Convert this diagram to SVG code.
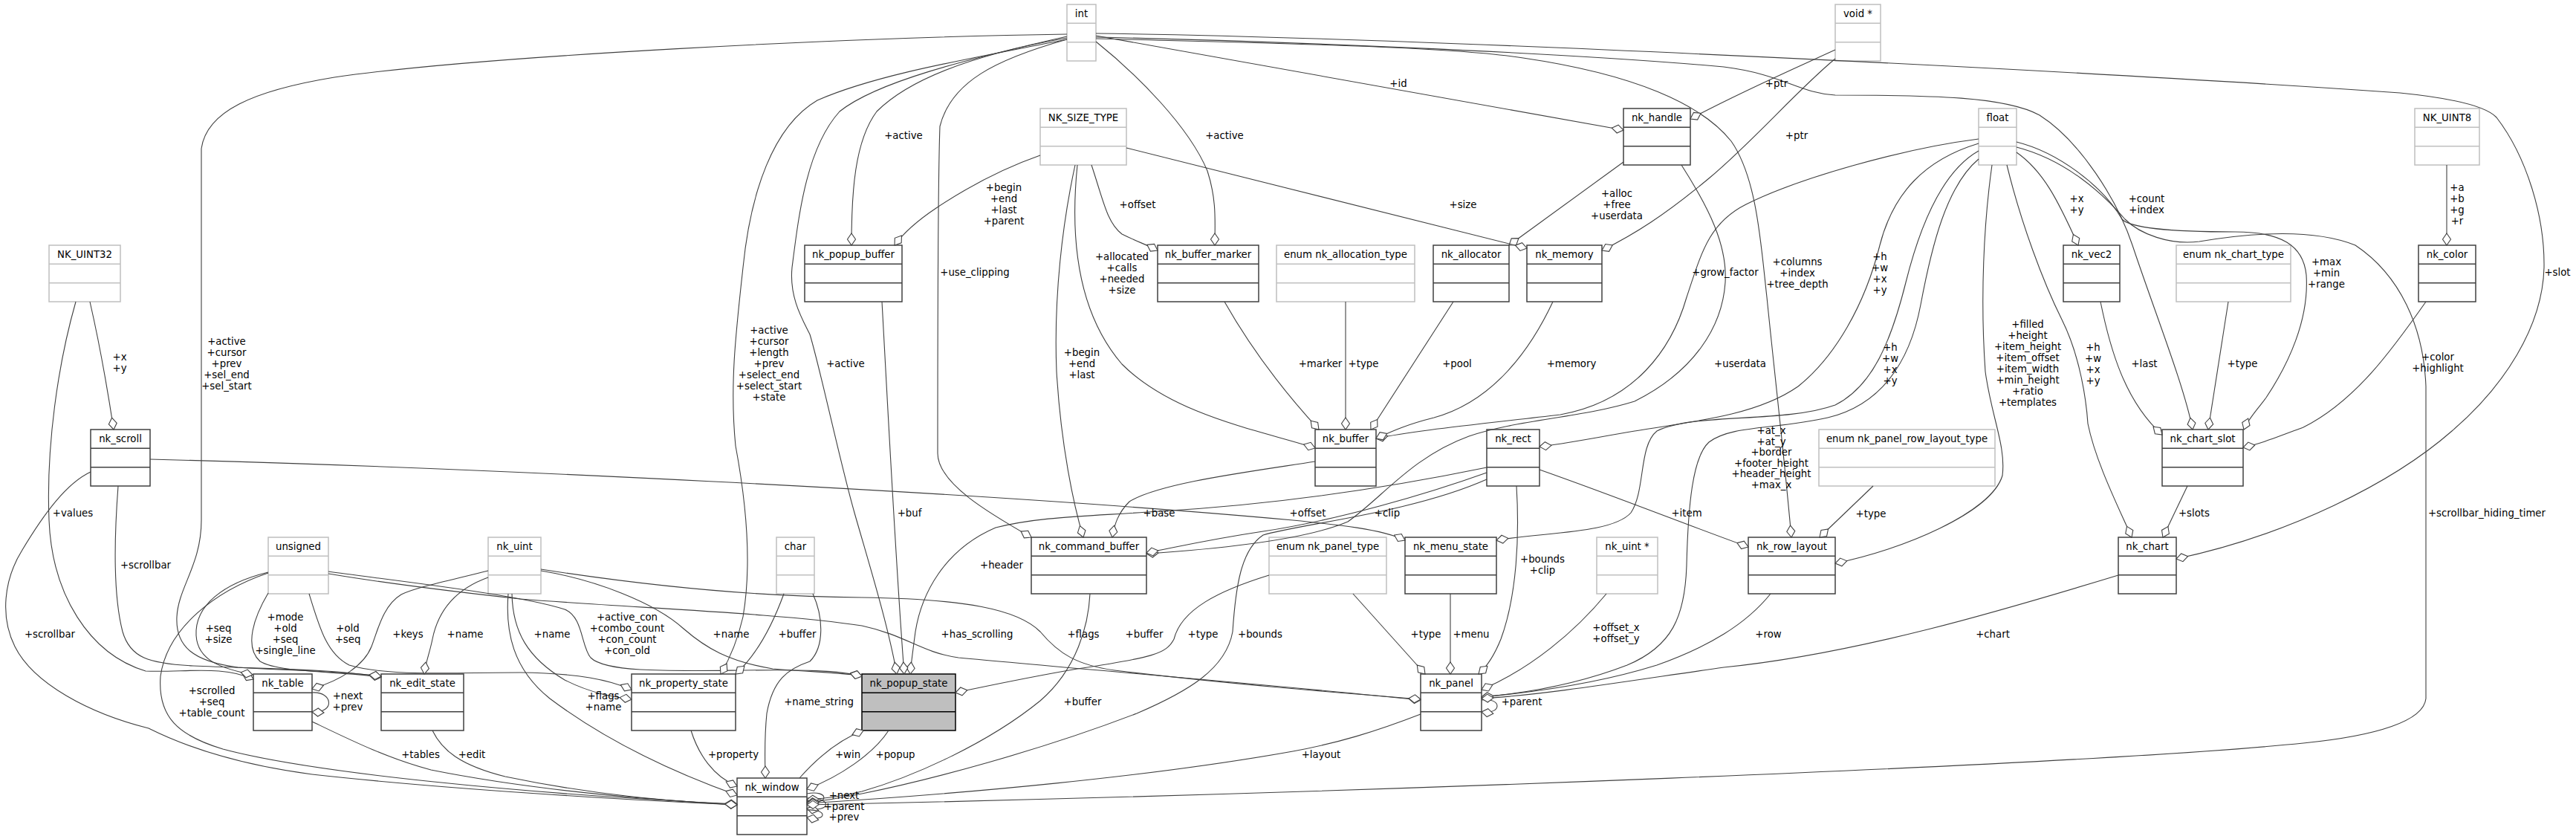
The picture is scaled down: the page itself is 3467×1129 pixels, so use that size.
<svg xmlns="http://www.w3.org/2000/svg" width="3467" height="1129" viewBox="0 0 3467 1129">
<defs>
<style>
text{font-family:"DejaVu Sans","Liberation Sans",sans-serif;font-size:13.3px;fill:#000}
.node text{text-anchor:middle}
.s rect{fill:#fff;stroke:#404040;stroke-width:1.5}
.s path{fill:none;stroke:#404040;stroke-width:1.5}
.t rect{fill:#fff;stroke:#bfbfbf;stroke-width:1.5}
.t path{fill:none;stroke:#bfbfbf;stroke-width:1.5}
.h rect{fill:#bfbfbf;stroke:#000;stroke-width:1.5}
.h path{fill:none;stroke:#000;stroke-width:1.5}
#connectors path{fill:none;stroke:#404040;stroke-width:1.1;marker-end:url(#d)}
#connectors text{text-anchor:middle}
</style>
<marker id="d" viewBox="0 0 18 14" markerWidth="18" markerHeight="14" refX="17" refY="7" orient="auto" markerUnits="userSpaceOnUse">
<path d="M1,7 L9,1.5 L17,7 L9,12.5 Z" fill="#fff" stroke="#404040" stroke-width="1.1"/>
</marker>
</defs>
<rect width="3467" height="1129" fill="#fff"/>
<g id="nodes">
<g id="n-NK_UINT32" class="node t"><rect x="66" y="330" width="96" height="76"/><path d="M66,355.3h96M66,380.7h96"/><text x="114" y="347">NK_UINT32</text></g>
<g id="n-nk_scroll" class="node s"><rect x="122" y="578" width="80" height="76"/><path d="M122,603.3h80M122,628.7h80"/><text x="162" y="595">nk_scroll</text></g>
<g id="n-unsigned" class="node t"><rect x="361" y="723" width="81" height="76"/><path d="M361,748.3h81M361,773.7h81"/><text x="401.5" y="740">unsigned</text></g>
<g id="n-nk_table" class="node s"><rect x="341" y="907" width="79" height="76"/><path d="M341,932.3h79M341,957.7h79"/><text x="380.5" y="924">nk_table</text></g>
<g id="n-nk_edit_state" class="node s"><rect x="513" y="907" width="111" height="76"/><path d="M513,932.3h111M513,957.7h111"/><text x="568.5" y="924">nk_edit_state</text></g>
<g id="n-nk_uint" class="node t"><rect x="657" y="723" width="71" height="76"/><path d="M657,748.3h71M657,773.7h71"/><text x="692.5" y="740">nk_uint</text></g>
<g id="n-char" class="node t"><rect x="1045" y="723" width="51" height="76"/><path d="M1045,748.3h51M1045,773.7h51"/><text x="1070.5" y="740">char</text></g>
<g id="n-nk_property_state" class="node s"><rect x="850" y="907" width="140" height="76"/><path d="M850,932.3h140M850,957.7h140"/><text x="920" y="924">nk_property_state</text></g>
<g id="n-nk_window" class="node s"><rect x="992" y="1047" width="94" height="76"/><path d="M992,1072.3h94M992,1097.7h94"/><text x="1039" y="1064">nk_window</text></g>
<g id="n-nk_popup_state" class="node h"><rect x="1160" y="907" width="126" height="76"/><path d="M1160,932.3h126M1160,957.7h126"/><text x="1223" y="924">nk_popup_state</text></g>
<g id="n-nk_popup_buffer" class="node s"><rect x="1083" y="330" width="131" height="76"/><path d="M1083,355.3h131M1083,380.7h131"/><text x="1148.5" y="347">nk_popup_buffer</text></g>
<g id="n-int" class="node t"><rect x="1436" y="6" width="39" height="76"/><path d="M1436,31.3h39M1436,56.7h39"/><text x="1455.5" y="23">int</text></g>
<g id="n-NK_SIZE_TYPE" class="node t"><rect x="1400" y="146" width="116" height="76"/><path d="M1400,171.3h116M1400,196.7h116"/><text x="1458" y="163">NK_SIZE_TYPE</text></g>
<g id="n-nk_buffer_marker" class="node s"><rect x="1558" y="330" width="136" height="76"/><path d="M1558,355.3h136M1558,380.7h136"/><text x="1626" y="347">nk_buffer_marker</text></g>
<g id="n-enum_nk_allocation_type" class="node t"><rect x="1718" y="330" width="186" height="76"/><path d="M1718,355.3h186M1718,380.7h186"/><text x="1811" y="347">enum nk_allocation_type</text></g>
<g id="n-nk_allocator" class="node s"><rect x="1929" y="330" width="102" height="76"/><path d="M1929,355.3h102M1929,380.7h102"/><text x="1980" y="347">nk_allocator</text></g>
<g id="n-nk_memory" class="node s"><rect x="2055" y="330" width="101" height="76"/><path d="M2055,355.3h101M2055,380.7h101"/><text x="2105.5" y="347">nk_memory</text></g>
<g id="n-nk_handle" class="node s"><rect x="2185" y="146" width="90" height="76"/><path d="M2185,171.3h90M2185,196.7h90"/><text x="2230" y="163">nk_handle</text></g>
<g id="n-nk_command_buffer" class="node s"><rect x="1388" y="723" width="155" height="76"/><path d="M1388,748.3h155M1388,773.7h155"/><text x="1465.5" y="740">nk_command_buffer</text></g>
<g id="n-enum_nk_panel_type" class="node t"><rect x="1708" y="723" width="158" height="76"/><path d="M1708,748.3h158M1708,773.7h158"/><text x="1787" y="740">enum nk_panel_type</text></g>
<g id="n-nk_buffer" class="node s"><rect x="1770" y="578" width="82" height="76"/><path d="M1770,603.3h82M1770,628.7h82"/><text x="1811" y="595">nk_buffer</text></g>
<g id="n-nk_rect" class="node s"><rect x="2001" y="578" width="71" height="76"/><path d="M2001,603.3h71M2001,628.7h71"/><text x="2036.5" y="595">nk_rect</text></g>
<g id="n-nk_menu_state" class="node s"><rect x="1891" y="723" width="123" height="76"/><path d="M1891,748.3h123M1891,773.7h123"/><text x="1952.5" y="740">nk_menu_state</text></g>
<g id="n-nk_uint_ptr" class="node t"><rect x="2149" y="723" width="82" height="76"/><path d="M2149,748.3h82M2149,773.7h82"/><text x="2190" y="740">nk_uint *</text></g>
<g id="n-nk_panel" class="node s"><rect x="1912" y="907" width="82" height="76"/><path d="M1912,932.3h82M1912,957.7h82"/><text x="1953" y="924">nk_panel</text></g>
<g id="n-void_ptr" class="node t"><rect x="2470" y="6" width="61" height="76"/><path d="M2470,31.3h61M2470,56.7h61"/><text x="2500.5" y="23">void *</text></g>
<g id="n-float" class="node t"><rect x="2663" y="146" width="51" height="76"/><path d="M2663,171.3h51M2663,196.7h51"/><text x="2688.5" y="163">float</text></g>
<g id="n-nk_vec2" class="node s"><rect x="2777" y="330" width="76" height="76"/><path d="M2777,355.3h76M2777,380.7h76"/><text x="2815" y="347">nk_vec2</text></g>
<g id="n-enum_nk_panel_row_layout_type" class="node t"><rect x="2448" y="578" width="237" height="76"/><path d="M2448,603.3h237M2448,628.7h237"/><text x="2566.5" y="595">enum nk_panel_row_layout_type</text></g>
<g id="n-nk_row_layout" class="node s"><rect x="2353" y="723" width="117" height="76"/><path d="M2353,748.3h117M2353,773.7h117"/><text x="2411.5" y="740">nk_row_layout</text></g>
<g id="n-nk_chart" class="node s"><rect x="2851" y="723" width="78" height="76"/><path d="M2851,748.3h78M2851,773.7h78"/><text x="2890" y="740">nk_chart</text></g>
<g id="n-enum_nk_chart_type" class="node t"><rect x="2929" y="330" width="154" height="76"/><path d="M2929,355.3h154M2929,380.7h154"/><text x="3006" y="347">enum nk_chart_type</text></g>
<g id="n-NK_UINT8" class="node t"><rect x="3250" y="146" width="87" height="76"/><path d="M3250,171.3h87M3250,196.7h87"/><text x="3293.5" y="163">NK_UINT8</text></g>
<g id="n-nk_color" class="node s"><rect x="3255" y="330" width="77" height="76"/><path d="M3255,355.3h77M3255,380.7h77"/><text x="3293.5" y="347">nk_color</text></g>
<g id="n-nk_chart_slot" class="node s"><rect x="2910" y="578" width="109" height="76"/><path d="M2910,603.3h109M2910,628.7h109"/><text x="2964.5" y="595">nk_chart_slot</text></g>
</g>
<g id="connectors">
<path d="M121,406 Q138,480 153,578"/>
<path d="M102,406 C78,490 62,600 66,700 C70,800 120,880 196,903 C250,905 300,895 341,914"/>
<path d="M159,654 C154,720 152,800 165,850 C175,885 200,893 260,896 C350,900 450,900 513,911"/>
<path d="M122,635 C90,650 60,690 30,740 C5,780 0,830 20,870 C45,920 120,960 200,980 C260,1010 330,1030 420,1042 C600,1062 850,1077 992,1083"/>
<path d="M361,770 C300,785 262,815 264,855 C266,890 300,900 340,908"/>
<path d="M361,771 C290,795 225,845 216,910 C212,965 240,990 300,1008 C420,1040 700,1068 992,1082"/>
<path d="M361,798 C342,830 328,870 350,890 C375,905 450,903 513,911"/>
<path d="M416,799 C430,845 440,880 470,895 C520,910 600,905 700,905 C780,906 820,915 850,928"/>
<path d="M442,769 C520,780 700,800 760,820 C785,830 782,870 795,885 C815,905 900,903 1000,902 C1080,901 1130,902 1160,910"/>
<path d="M442,772 C520,785 600,795 700,806 C850,818 1050,825 1160,842 C1220,855 1240,878 1290,885 C1450,900 1750,925 1912,942"/>
<path d="M728,766 C850,785 1000,803 1160,804 C1300,806 1370,820 1400,850 C1425,880 1450,895 1500,902 C1650,920 1800,932 1912,941"/>
<path d="M657,768 C610,780 560,790 540,800 C515,815 508,850 500,870 C490,895 460,915 420,927"/>
<path d="M657,777 C615,792 590,820 582,860 C578,880 573,890 571,907"/>
<path d="M420,932 C448,930 452,960 420,958"/>
<path d="M420,971 C470,995 520,1020 580,1036 C700,1060 850,1075 992,1083"/>
<path d="M582,983 C595,1010 620,1030 680,1045 C800,1070 900,1078 992,1083"/>
<path d="M684,799 C680,850 690,900 740,940 C800,985 880,1030 992,1070"/>
<path d="M689,799 C690,850 710,885 760,915 C800,935 830,938 850,941"/>
<path d="M728,768 C800,780 880,810 920,846 C950,872 980,890 1040,900 C1100,905 1140,905 1160,910"/>
<path d="M1055,799 C1040,840 1020,880 990,907"/>
<path d="M1436,53 C1300,80 1180,100 1100,135 C1040,170 1010,260 1000,360 C990,450 982,520 990,600 C1005,680 1012,760 1000,830 C992,865 980,890 970,907"/>
<path d="M1094,799 C1108,830 1110,870 1090,890 C1060,900 1040,915 1032,960 C1028,1000 1030,1030 1030,1047"/>
<path d="M930,983 C940,1015 960,1045 992,1058"/>
<path d="M1076,1047 C1100,1020 1130,995 1162,983"/>
<path d="M1196,983 C1175,1015 1130,1045 1086,1062"/>
<path d="M1086,1068 C1115,1062 1118,1084 1086,1078"/>
<path d="M1086,1074 C1120,1072 1120,1094 1086,1088"/>
<path d="M1086,1090 C1114,1088 1114,1106 1086,1100"/>
<path d="M1467,799 C1465,840 1450,900 1400,943 C1330,1000 1230,1045 1160,1065 C1130,1072 1110,1075 1086,1076"/>
<path d="M2001,645 C1900,690 1750,705 1700,720 C1670,740 1663,790 1659,850 C1650,900 1600,930 1530,960 C1400,1010 1250,1050 1160,1068 C1130,1074 1105,1078 1086,1080"/>
<path d="M1912,961 C1850,985 1800,1000 1740,1011 C1550,1045 1300,1068 1086,1081"/>
<path d="M2714,198 C2780,215 2830,260 2860,295 C2880,315 2920,330 2960,325 C3050,310 3120,310 3170,330 C3230,370 3262,440 3265,520 L3265,940 C3262,970 3200,990 3100,1000 C2800,1030 1800,1068 1086,1083"/>
<path d="M2714,191 C2770,205 2830,250 2856,295 C2870,310 2950,312 3008,312 C3070,312 3100,330 3104,370 C3108,430 3080,490 3050,535 C3035,555 3025,565 3020,578"/>
<path d="M2714,205 C2750,230 2770,270 2797,330"/>
<path d="M2701,222 C2720,300 2750,380 2775,430 C2800,480 2808,540 2810,570 C2820,620 2850,680 2869,723"/>
<path d="M2681,222 C2670,300 2665,400 2672,500 C2680,560 2700,600 2695,640 C2680,690 2560,740 2470,758"/>
<path d="M2663,214 C2620,250 2600,330 2585,410 C2570,490 2530,545 2460,562 C2390,578 2330,572 2300,595 C2278,615 2272,680 2270,760 C2268,830 2250,870 2190,895 C2120,922 2050,933 1994,938"/>
<path d="M2663,203 C2615,230 2585,300 2565,380 C2545,460 2520,520 2470,545 C2400,570 2280,555 2230,580 C2205,600 2215,660 2195,690 C2170,718 2080,716 2014,727"/>
<path d="M2663,193 C2590,215 2548,260 2530,330 C2510,410 2470,480 2420,520 C2370,555 2300,565 2200,580 C2130,592 2100,598 2072,601"/>
<path d="M2663,187 C2560,200 2420,240 2350,275 C2300,300 2290,340 2270,400 C2250,470 2200,540 2100,558 C1980,572 1900,580 1852,590"/>
<path d="M2263,222 C2300,280 2325,330 2322,380 C2318,440 2280,500 2200,540 C2130,562 2040,565 1977,587 C1900,615 1860,670 1814,702 C1760,725 1650,738 1543,745"/>
<path d="M2001,636 C1920,665 1800,700 1700,715 C1620,727 1580,737 1543,744"/>
<path d="M2001,629 C1850,660 1700,680 1560,688 C1460,695 1400,695 1340,710 C1270,740 1240,800 1232,850 C1228,880 1226,895 1225,907"/>
<path d="M202,618 C600,628 1300,660 1740,700 C1800,706 1860,712 1891,727"/>
<path d="M1708,774 C1640,795 1590,820 1580,860 C1570,880 1550,885 1450,900 C1380,912 1320,925 1286,932"/>
<path d="M1187,406 C1195,550 1205,750 1217,907"/>
<path d="M1436,49 C1300,80 1180,110 1130,150 C1085,200 1075,290 1066,360 C1062,400 1080,430 1090,450 C1105,500 1130,620 1150,690 C1170,760 1195,840 1207,907"/>
<path d="M1436,51 C1330,70 1230,100 1180,150 C1150,190 1146,260 1146,330"/>
<path d="M1436,53 C1340,80 1280,110 1265,170 C1262,250 1262,500 1262,610 C1262,650 1330,690 1388,723"/>
<path d="M1475,56 C1530,100 1600,170 1625,230 C1638,270 1635,300 1635,330"/>
<path d="M1475,48 L2185,175"/>
<path d="M1475,45 C1900,50 2800,95 3230,125 C3300,132 3345,142 3360,158 C3400,210 3425,290 3424,360 C3422,440 3370,520 3300,580 C3220,650 3080,720 2929,752"/>
<path d="M1475,50 C1700,55 2100,70 2320,90 C2400,100 2420,125 2470,128 C2600,128 2700,130 2745,155 C2800,190 2850,270 2870,330 C2900,420 2940,520 2951,578"/>
<path d="M1475,52 C1700,58 1950,62 2050,78 C2200,100 2290,140 2330,190 C2365,240 2370,330 2378,400 C2388,500 2400,600 2411,723"/>
<path d="M2470,67 C2420,90 2340,125 2275,160"/>
<path d="M2470,79 C2420,120 2360,190 2300,240 C2240,290 2200,315 2156,337"/>
<path d="M2185,218 L2031,330"/>
<path d="M1516,199 L2055,334"/>
<path d="M1400,209 C1340,230 1290,260 1260,280 C1230,300 1215,315 1204,330"/>
<path d="M1447,222 C1430,300 1418,400 1422,500 C1428,600 1445,680 1458,723"/>
<path d="M1450,222 C1440,320 1450,420 1510,490 C1580,560 1700,580 1770,603"/>
<path d="M1469,222 C1485,270 1490,300 1510,315 C1530,325 1545,330 1558,337"/>
<path d="M1648,406 C1690,480 1740,540 1775,578"/>
<path d="M1811,406 L1811,578"/>
<path d="M1956,406 L1845,578"/>
<path d="M2090,406 C2060,470 2010,540 1930,562 C1890,572 1870,582 1852,590"/>
<path d="M1770,621 C1680,635 1560,650 1520,675 C1505,690 1500,705 1497,723"/>
<path d="M2041,654 C2045,720 2042,800 2020,860 C2010,885 2000,898 1990,907"/>
<path d="M1952,799 L1952,907"/>
<path d="M1821,799 L1918,907"/>
<path d="M2162,799 C2120,850 2060,900 1994,928"/>
<path d="M1994,942 C2022,938 2022,962 1994,958"/>
<path d="M2383,799 C2350,840 2300,870 2230,895 C2150,920 2060,932 1994,938"/>
<path d="M2851,774 C2700,820 2500,880 2320,898 C2200,915 2080,935 1994,940"/>
<path d="M2072,632 C2180,670 2280,710 2353,736"/>
<path d="M2521,654 L2449,723"/>
<path d="M2944,654 L2911,723"/>
<path d="M2827,406 C2840,470 2860,540 2910,585"/>
<path d="M2999,406 L2972,578"/>
<path d="M3265,406 C3220,470 3170,540 3100,575 C3060,590 3040,598 3019,602"/>
<path d="M3293,222 L3293,330"/>
<path d="M1436,46 C1150,50 650,75 450,104 C340,122 278,150 271,200 L271,700 C271,760 240,790 238,830 C236,870 260,890 320,898 C400,903 460,903 513,910"/>
<g id="edge-labels">
<text x="161" y="485">+x<tspan x="161" dy="15">+y</tspan></text>
<text x="98" y="695">+values</text>
<text x="196" y="765">+scrollbar</text>
<text x="67" y="858">+scrollbar</text>
<text x="305" y="464">+active<tspan x="305" dy="15">+cursor</tspan><tspan x="305" dy="15">+prev</tspan><tspan x="305" dy="15">+sel_end</tspan><tspan x="305" dy="15">+sel_start</tspan></text>
<text x="294" y="850">+seq<tspan x="294" dy="15">+size</tspan></text>
<text x="384" y="835">+mode<tspan x="384" dy="15">+old</tspan><tspan x="384" dy="15">+seq</tspan><tspan x="384" dy="15">+single_line</tspan></text>
<text x="468" y="850">+old<tspan x="468" dy="15">+seq</tspan></text>
<text x="549" y="858">+keys</text>
<text x="285" y="934">+scrolled<tspan x="285" dy="15">+seq</tspan><tspan x="285" dy="15">+table_count</tspan></text>
<text x="468" y="941">+next<tspan x="468" dy="15">+prev</tspan></text>
<text x="566" y="1020">+tables</text>
<text x="635" y="1020">+edit</text>
<text x="626" y="858">+name</text>
<text x="743" y="858">+name</text>
<text x="844" y="835">+active_con<tspan x="844" dy="15">+combo_count</tspan><tspan x="844" dy="15">+con_count</tspan><tspan x="844" dy="15">+con_old</tspan></text>
<text x="984" y="858">+name</text>
<text x="1073" y="858">+buffer</text>
<text x="812" y="941">+flags<tspan x="812" dy="15">+name</tspan></text>
<text x="1102" y="949">+name_string</text>
<text x="987" y="1020">+property</text>
<text x="1141" y="1020">+win</text>
<text x="1136" y="1075">+next<tspan x="1136" dy="14.5">+parent</tspan><tspan x="1136" dy="14.5">+prev</tspan></text>
<text x="1035" y="449">+active<tspan x="1035" dy="15">+cursor</tspan><tspan x="1035" dy="15">+length</tspan><tspan x="1035" dy="15">+prev</tspan><tspan x="1035" dy="15">+select_end</tspan><tspan x="1035" dy="15">+select_start</tspan><tspan x="1035" dy="15">+state</tspan></text>
<text x="1138" y="494">+active</text>
<text x="1216" y="187">+active</text>
<text x="1351" y="257">+begin<tspan x="1351" dy="15">+end</tspan><tspan x="1351" dy="15">+last</tspan><tspan x="1351" dy="15">+parent</tspan></text>
<text x="1312" y="371">+use_clipping</text>
<text x="1531" y="280">+offset</text>
<text x="1648" y="187">+active</text>
<text x="1510" y="350">+allocated<tspan x="1510" dy="15">+calls</tspan><tspan x="1510" dy="15">+needed</tspan><tspan x="1510" dy="15">+size</tspan></text>
<text x="1456" y="479">+begin<tspan x="1456" dy="15">+end</tspan><tspan x="1456" dy="15">+last</tspan></text>
<text x="1882" y="117">+id</text>
<text x="1969" y="280">+size</text>
<text x="2176" y="265">+alloc<tspan x="2176" dy="15">+free</tspan><tspan x="2176" dy="15">+userdata</tspan></text>
<text x="2322" y="371">+grow_factor</text>
<text x="1777" y="494">+marker</text>
<text x="1835" y="494">+type</text>
<text x="1961" y="494">+pool</text>
<text x="2115" y="494">+memory</text>
<text x="2342" y="494">+userdata</text>
<text x="2391" y="117">+ptr</text>
<text x="2418" y="187">+ptr</text>
<text x="2419" y="357">+columns<tspan x="2419" dy="15">+index</tspan><tspan x="2419" dy="15">+tree_depth</tspan></text>
<text x="2530" y="350">+h<tspan x="2530" dy="15">+w</tspan><tspan x="2530" dy="15">+x</tspan><tspan x="2530" dy="15">+y</tspan></text>
<text x="2544" y="472">+h<tspan x="2544" dy="15">+w</tspan><tspan x="2544" dy="15">+x</tspan><tspan x="2544" dy="15">+y</tspan></text>
<text x="2729" y="441">+filled<tspan x="2729" dy="15">+height</tspan><tspan x="2729" dy="15">+item_height</tspan><tspan x="2729" dy="15">+item_offset</tspan><tspan x="2729" dy="15">+item_width</tspan><tspan x="2729" dy="15">+min_height</tspan><tspan x="2729" dy="15">+ratio</tspan><tspan x="2729" dy="15">+templates</tspan></text>
<text x="2817" y="472">+h<tspan x="2817" dy="15">+w</tspan><tspan x="2817" dy="15">+x</tspan><tspan x="2817" dy="15">+y</tspan></text>
<text x="2795" y="272">+x<tspan x="2795" dy="15">+y</tspan></text>
<text x="2889" y="272">+count<tspan x="2889" dy="15">+index</tspan></text>
<text x="2886" y="494">+last</text>
<text x="2384" y="584">+at_x<tspan x="2384" dy="14.5">+at_y</tspan><tspan x="2384" dy="14.5">+border</tspan><tspan x="2384" dy="14.5">+footer_height</tspan><tspan x="2384" dy="14.5">+header_height</tspan><tspan x="2384" dy="14.5">+max_x</tspan></text>
<text x="2518" y="696">+type</text>
<text x="2380" y="858">+row</text>
<text x="2682" y="858">+chart</text>
<text x="3131" y="357">+max<tspan x="3131" dy="15">+min</tspan><tspan x="3131" dy="15">+range</tspan></text>
<text x="3307" y="257">+a<tspan x="3307" dy="15">+b</tspan><tspan x="3307" dy="15">+g</tspan><tspan x="3307" dy="15">+r</tspan></text>
<text x="3018" y="494">+type</text>
<text x="3281" y="485">+color<tspan x="3281" dy="15">+highlight</tspan></text>
<text x="3442" y="371">+slot</text>
<text x="2953" y="695">+slots</text>
<text x="3347" y="695">+scrollbar_hiding_timer</text>
<text x="1224" y="695">+buf</text>
<text x="1560" y="695">+base</text>
<text x="1348" y="765">+header</text>
<text x="1315" y="858">+has_scrolling</text>
<text x="1458" y="858">+flags</text>
<text x="1540" y="858">+buffer</text>
<text x="1619" y="858">+type</text>
<text x="1696" y="858">+bounds</text>
<text x="1457" y="949">+buffer</text>
<text x="1205" y="1020">+popup</text>
<text x="1760" y="695">+offset</text>
<text x="1867" y="695">+clip</text>
<text x="2270" y="695">+item</text>
<text x="2076" y="757">+bounds<tspan x="2076" dy="15">+clip</tspan></text>
<text x="1919" y="858">+type</text>
<text x="1980" y="858">+menu</text>
<text x="2175" y="849">+offset_x<tspan x="2175" dy="15">+offset_y</tspan></text>
<text x="2048" y="949">+parent</text>
<text x="1778" y="1020">+layout</text>
</g>
</g>
</svg>
